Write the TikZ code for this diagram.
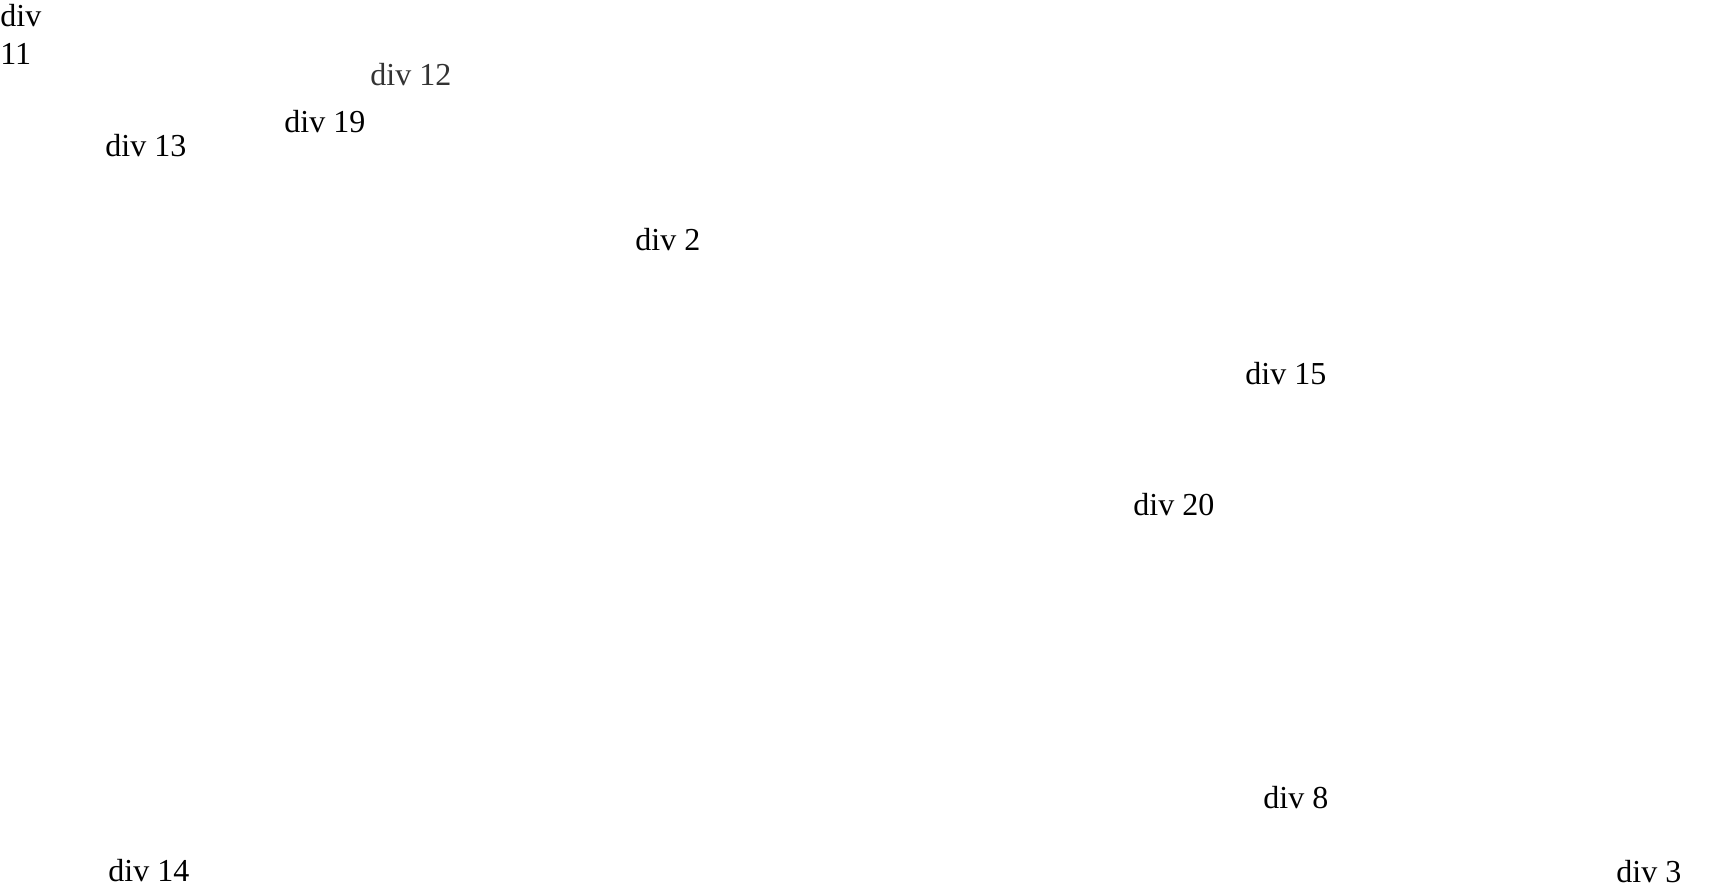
\documentclass[tikz,border=0pt]{standalone}
\usepackage{fontspec}
\setmainfont{Liberation Serif}
\usetikzlibrary{positioning}

\begin{document}
\begin{tikzpicture}[x=0.5pt,y=-0.5pt,
  label/.style={anchor=base west, inner sep=0pt, font=\fontsize{16pt}{19pt}\selectfont},
  faint/.style={label, text=black!80}]

\useasboundingbox (0,0) rectangle (1728,893);

\node[label, align=left] (div11) at (0,65) {div\\11};
\node[faint] (div12) at (370,86) {div 12};
\node[label] (div19) at (284,133) {div 19};
\node[label] (div13) at (105,157) {div 13};
\node[label] (div2) at (635,250) {div 2};
\node[label] (div15) at (1245,384) {div 15};
\node[label] (div20) at (1133,515) {div 20};
\node[label] (div8) at (1263,808) {div 8};
\node[label] (div14) at (108,881) {div 14};
\node[label] (div3) at (1616,882) {div 3};
\end{tikzpicture}
\end{document}
